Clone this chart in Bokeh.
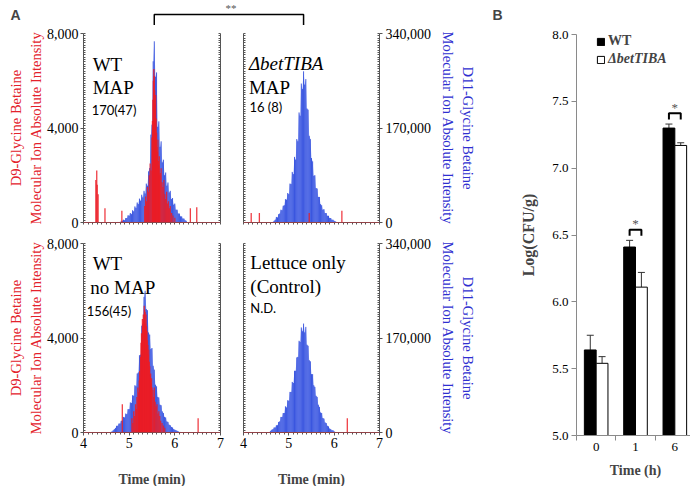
from bokeh.plotting import figure
from bokeh.models import (Range1d, LinearAxis, FixedTicker, NumeralTickFormatter,
                          PrintfTickFormatter, Label, Span, ColumnDataSource, Whisker,
                          TeeHead, Legend, LegendItem)
from bokeh.layouts import row, column
from bokeh.embed import file_html
from bokeh.resources import INLINE

# ---------------- Panel A data ----------------
# D11-glycine betaine (blue, right axis) traces, one sample every 0.025 min from 4.50 min, in thousands
blue_start = 4.50
blue_step = 0.025
blue_wt_map = [0, 0, 0, 0, 0, 0, 0, 0, 0, 0,
               1, 0, 1, 2, 3, 5, 4, 8, 8, 13,
               12, 17, 15, 22, 20, 29, 26, 36, 33, 43,
               39, 50, 45, 57, 52, 70, 66, 92, 98, 158,
               176, 290, 326, 262, 270, 172, 182, 136, 146, 108,
               113, 85, 90, 66, 72, 54, 57, 42, 44, 32,
               34, 23, 23, 16, 16, 11, 11, 7, 7, 4, 3]
blue_mut_map = [0, 0, 0, 0, 0, 0, 1, 3, 5, 10,
                9, 15, 16, 23, 22, 30, 31, 42, 41, 53,
                51, 70, 69, 91, 87, 118, 113, 150, 146, 198,
                192, 250, 240, 272, 248, 258, 205, 203, 156, 150,
                116, 110, 84, 85, 62, 61, 46, 46, 33, 31,
                23, 24, 17, 17, 12, 12, 8, 8, 5, 5,
                3, 2, 1, 0, 0, 0, 0, 0, 0, 0, 0]
blue_wt_nomap = [0, 0, 0, 0, 1, 2, 4, 6, 8, 12,
                 12, 16, 16, 21, 21, 28, 27, 34, 33, 42,
                 42, 54, 53, 67, 66, 85, 83, 106, 108, 139,
                 140, 192, 196, 244, 255, 222, 220, 180, 176, 150,
                 152, 120, 113, 86, 83, 64, 63, 50, 49, 38,
                 35, 28, 27, 20, 19, 14, 13, 10, 9, 6,
                 5, 4, 3, 2, 1, 1, 0, 0, 0, 0, 0]
blue_lettuce = [0, 0, 0, 1, 3, 5, 6, 9, 9, 13,
                13, 19, 20, 28, 28, 35, 35, 47, 45, 58,
                57, 73, 73, 91, 89, 111, 111, 135, 136, 165,
                163, 189, 182, 196, 180, 190, 158, 156, 130, 128,
                105, 105, 85, 82, 66, 64, 50, 46, 36, 35,
                26, 25, 18, 17, 12, 11, 7, 6, 4, 4,
                2, 1, 0, 0, 0, 0, 0, 0, 0, 0, 0]

# D9-glycine betaine (red, left axis) traces: retention time (min) and intensity
red_wt_map_t = [4.27, 4.29, 4.30, 4.32, 4.47, 4.84,
                5.34, 5.36, 5.38, 5.40, 5.42, 5.44, 5.46, 5.48, 5.50, 5.51,
                5.52, 5.53, 5.54, 5.55, 5.56, 5.57, 5.58, 5.59, 5.60, 5.61,
                5.62, 5.63, 5.64, 5.65, 5.66, 5.67, 5.68, 5.70, 5.72, 5.74,
                5.76, 5.78, 5.80, 5.82, 5.84, 5.86, 5.88, 5.90, 5.93, 5.96,
                6.00, 6.34, 6.48]
red_wt_map_v = [1800, 2200, 1600, 1200, 600, 500,
                700, 1100, 900, 1500, 1300, 2000, 2500, 2200, 3600, 4300,
                5200, 6000, 6500, 6200, 5600, 5000, 5400, 4400, 3800, 3200,
                3000, 3500, 2600, 2400, 2800, 2000, 2100, 2300, 1700, 1500,
                1800, 1200, 1000, 1300, 800, 900, 600, 700, 400, 300,
                200, 600, 650]
red_mut_map_t = [4.17, 4.35, 5.45, 6.17]
red_mut_map_v = [400, 400, 400, 500]
red_wt_nomap_t = [4.85, 5.06, 5.08, 5.10, 5.12, 5.14, 5.16, 5.17, 5.19, 5.20,
                  5.21, 5.22, 5.23, 5.24, 5.25, 5.26, 5.27, 5.28, 5.29, 5.30,
                  5.31, 5.32, 5.33, 5.34, 5.35, 5.36, 5.37, 5.38, 5.39, 5.40,
                  5.41, 5.42, 5.43, 5.44, 5.45, 5.46, 5.47, 5.48, 5.49, 5.50,
                  5.52, 5.54, 5.55, 5.57, 5.59, 5.61, 5.63, 5.65, 5.67, 5.69,
                  5.72, 5.75, 5.78, 6.51]
red_wt_nomap_v = [1200, 600, 400, 900, 700, 1200, 1000, 1500, 1900, 1400,
                  1700, 2200, 2600, 2300, 3200, 3800, 4200, 3900, 4800, 4500,
                  5000, 4700, 5370, 5200, 5100, 4600, 5000, 4500, 4300, 3900,
                  3700, 3300, 3500, 3000, 2800, 2400, 2500, 2100, 2300, 1900,
                  1800, 1500, 1900, 1300, 1100, 1200, 800, 900, 700, 500,
                  400, 300, 200, 600]
red_lettuce_t = [6.29]
red_lettuce_v = [600]

# panel texts
texts_tl = ["WT", "MAP", "170(47)"]
texts_tr = ["\u0394betTIBA", "MAP", "16 (8)"]
texts_bl = ["WT", "no MAP", "156(45)"]
texts_br = ["Lettuce only", "(Control)", "N.D."]

# ---------------- Panel B data ----------------
time_h = ["0", "1", "6"]
wt_mean = [5.64, 6.41, 7.30]
wt_err = [0.11, 0.05, 0.03]
mut_mean = [5.54, 6.11, 7.17]
mut_err = [0.05, 0.11, 0.02]
significant = [False, True, True]

SERIF = "Liberation Serif"
SANS = "Lato"
RED = "#e3222b"
BLUE = "#2f2fd0"
AX = "#555555"

FH = 189
FW_L, FW_R = 137, 136
BL_L, BR_L = 83, 11      # borders of left column figures
BL_R, BR_R = 12, 95      # borders of right column figures


def style_axis(ax):
    ax.axis_line_color = AX
    ax.major_tick_line_color = AX
    ax.minor_tick_line_color = AX
    ax.major_label_text_font = SERIF
    ax.major_label_text_font_size = "14px"
    ax.major_label_text_color = "black"
    ax.axis_label_text_font = SERIF
    ax.axis_label_text_font_style = "normal"
    ax.axis_label_text_font_size = "14.5px"
    ax.axis_label_text_line_height = 1.25


def chrom_fig(blue, rt, rv, is_left, is_bottom, texts, text_pos):
    p = figure(frame_width=FW_L if is_left else FW_R, frame_height=FH,
               x_range=Range1d(4, 7), y_range=Range1d(0, 8000),
               x_axis_type=None, y_axis_type=None,
               min_border_left=BL_L if is_left else BL_R,
               min_border_right=BR_L if is_left else BR_R,
               min_border_top=8,
               min_border_bottom=54 if is_bottom else 13,
               output_backend="svg", toolbar_location=None)
    p.outline_line_color = None
    p.extra_y_ranges = {"blue": Range1d(0, 340000)}

    bt = [round(blue_start + blue_step * i, 3) for i in range(len(blue))]
    bv = [v * 1000 for v in blue]
    bsrc = ColumnDataSource(dict(t=bt, v=bv))
    p.varea(x="t", y1=0, y2="v", source=bsrc, y_range_name="blue",
            fill_color="#4a6af2", fill_alpha=0.55)
    p.segment(x0="t", y0=0, x1="t", y1="v", source=bsrc, y_range_name="blue",
              line_color="#2240d8", line_width=1, line_alpha=0.8)
    rsrc = ColumnDataSource(dict(t=rt, v=rv))
    p.segment(x0="t", y0=0, x1="t", y1="v", source=rsrc,
              line_color="#ec1c24", line_width=1.3, line_alpha=0.85)
    p.add_layout(Span(location=0, dimension="width", line_color="#d0303a", line_width=1))

    red_minor = list(range(0, 8001, 100))
    blue_minor = list(range(0, 340001, 4250))
    time_minor = [round(4 + 0.1 * i, 1) for i in range(31)]
    if is_left:
        yl = LinearAxis(ticker=FixedTicker(ticks=[0, 4000, 8000], minor_ticks=red_minor),
                        formatter=NumeralTickFormatter(format="0,0"))
        yr = LinearAxis(y_range_name="blue", ticker=FixedTicker(ticks=[], minor_ticks=blue_minor))
    else:
        yl = LinearAxis(ticker=FixedTicker(ticks=[], minor_ticks=red_minor))
        yr = LinearAxis(y_range_name="blue",
                        ticker=FixedTicker(ticks=[0, 170000, 340000], minor_ticks=blue_minor),
                        formatter=NumeralTickFormatter(format="0,0"))
    if is_bottom:
        xb = LinearAxis(ticker=FixedTicker(ticks=[4, 5, 6, 7], minor_ticks=time_minor))
    else:
        xb = LinearAxis(ticker=FixedTicker(ticks=[], minor_ticks=time_minor))
    for ax in (yl, yr, xb):
        style_axis(ax)
    for ax in (yl, yr):
        ax.major_tick_out = 3
        ax.major_tick_in = 0
        ax.minor_tick_out = 0
        ax.minor_tick_in = 2
        ax.major_label_standoff = 2
    xb.major_tick_out = 3
    xb.major_tick_in = 0
    xb.minor_tick_out = 2
    xb.minor_tick_in = 0
    xb.major_label_standoff = 2

    if is_left:
        yl.axis_label = "D9-Glycine Betaine\nMolecular Ion Absolute Intensity"
        yl.axis_label_text_color = RED
        yl.axis_label_standoff = 0
    else:
        yr.axis_label = "D11-Glycine Betaine\nMolecular Ion Absolute Intensity"
        yr.axis_label_text_color = BLUE
        yr.axis_label_standoff = 6
        yr.major_label_standoff = 3
    if is_bottom:
        xb.axis_label = "Time (min)"
        xb.axis_label_text_font_style = "bold"
        xb.axis_label_text_font_size = "14px"
        xb.axis_label_standoff = 21
    p.add_layout(yl, "left")
    p.add_layout(yr, "right")
    p.add_layout(xb, "below")

    for txt, (x, y, font, size, style) in zip(texts, text_pos):
        p.add_layout(Label(x=x, y=y, text=txt, text_font=font, text_font_size=size,
                           text_font_style=style, text_color="black",
                           text_baseline="alphabetic", text_align="left"))
    return p


big = "19px"
small = "13px"
p_tl = chrom_fig(blue_wt_map, red_wt_map_t, red_wt_map_v, True, False, texts_tl,
                 [(4.20, 6690, SERIF, big, "normal"), (4.20, 5714, SERIF, big, "normal"),
                  (4.18, 4783, SANS, small, "normal")])
p_tr = chrom_fig(blue_mut_map, red_mut_map_t, red_mut_map_v, False, False, texts_tr,
                 [(4.12, 6730, SERIF, big, "italic"), (4.12, 5714, SERIF, big, "normal"),
                  (4.13, 4910, SANS, small, "normal")])
p_bl = chrom_fig(blue_wt_nomap, red_wt_nomap_t, red_wt_nomap_v, True, True, texts_bl,
                 [(4.20, 7153, SERIF, big, "normal"), (4.15, 6138, SERIF, big, "normal"),
                  (4.07, 5122, SANS, small, "normal")])
p_br = chrom_fig(blue_lettuce, red_lettuce_t, red_lettuce_v, False, True, texts_br,
                 [(4.15, 7196, SERIF, big, "normal"), (4.15, 6180, SERIF, big, "normal"),
                  (4.15, 5291, SANS, small, "normal")])

# ---- strip above both panels: panel letters and bracket between the two MAP peaks ----
W_TOTAL = 690
strip = figure(width=W_TOTAL, height=25, x_range=Range1d(0, W_TOTAL), y_range=Range1d(25, 0),
               x_axis_type=None, y_axis_type=None, min_border=0,
               output_backend="svg", toolbar_location=None)
strip.outline_line_color = None
t_peak_tl = blue_start + blue_step * blue_wt_map.index(max(blue_wt_map))
t_peak_tr = blue_start + blue_step * blue_mut_map.index(max(blue_mut_map))
x_a = BL_L + (t_peak_tl - 4) / 3 * FW_L
x_b = BL_L + FW_L + BR_L + BL_R + (t_peak_tr - 4) / 3 * FW_R
strip.line(x=[x_a, x_a, x_b, x_b], y=[24.8, 14, 14, 24.8], line_color="black", line_width=1.5)
strip.add_layout(Label(x=(x_a + x_b) / 2 + 2, y=7, text="**", text_align="center",
                       text_baseline="middle", text_font=SERIF, text_font_size="11px",
                       text_color="#555555"))
for letter, lx in (("A", 10), ("B", 492)):
    strip.add_layout(Label(x=lx, y=14, text=letter, text_font="Liberation Sans",
                           text_font_style="bold", text_font_size="14px",
                           text_baseline="middle"))

# ---------------- Panel B ----------------
W_A = BL_L + FW_L + BR_L + BL_R + FW_R + BR_R
pb = figure(frame_width=118, frame_height=401, x_range=Range1d(0, 3), y_range=Range1d(5, 8),
            x_axis_type=None, y_axis_type=None,
            min_border_left=W_TOTAL - W_A - 118 - 1, min_border_right=1,
            min_border_top=9, min_border_bottom=51,
            output_backend="svg", toolbar_location=None)
pb.outline_line_color = None
xc = [i + 0.5 for i in range(len(time_h))]
bw = 0.3
src = ColumnDataSource(dict(
    xw=[x - bw / 2 for x in xc], xm=[x + bw / 2 for x in xc],
    wt=wt_mean, wt_hi=[m + e for m, e in zip(wt_mean, wt_err)],
    mut=mut_mean, mut_hi=[m + e for m, e in zip(mut_mean, mut_err)]))
r_wt = pb.vbar(x="xw", width=bw, bottom=5, top="wt", source=src,
               fill_color="black", line_color="black", line_width=1)
r_mut = pb.vbar(x="xm", width=bw, bottom=5, top="mut", source=src,
                fill_color="white", line_color="black", line_width=1)
for base, lo, hi in (("xw", "wt", "wt_hi"), ("xm", "mut", "mut_hi")):
    pb.add_layout(Whisker(source=src, base=base, lower=lo, upper=hi,
                          upper_head=TeeHead(size=7, line_color="#333333", line_width=1),
                          lower_head=None, line_color="#333333", line_width=1))

# significance brackets
for i, sig in enumerate(significant):
    if not sig:
        continue
    lvl = max(wt_mean[i] + wt_err[i], mut_mean[i] + mut_err[i]) + 0.08
    x0, x1 = xc[i] - bw / 2, xc[i] + bw / 2
    pb.line(x=[x0, x0, x1, x1], y=[lvl - 0.045, lvl, lvl, lvl - 0.045],
            line_color="black", line_width=2)
    pb.add_layout(Label(x=xc[i], y=lvl - 0.01, text="*", text_align="center",
                        text_baseline="bottom", text_font=SERIF, text_font_size="13px",
                        text_color="#555555"))

yb = LinearAxis(ticker=FixedTicker(ticks=[5.0, 5.5, 6.0, 6.5, 7.0, 7.5, 8.0]),
                formatter=PrintfTickFormatter(format="%.1f"))
xbb = LinearAxis(ticker=FixedTicker(ticks=xc, minor_ticks=[0, 1, 2, 3]),
                 major_label_overrides={x: t for x, t in zip(xc, time_h)})
for ax in (yb, xbb):
    style_axis(ax)
    ax.axis_line_color = "#8a8a8a"
    ax.major_tick_line_color = "#8a8a8a"
    ax.minor_tick_line_color = "#8a8a8a"
    ax.major_label_text_font_size = "13px"
    ax.axis_label_text_font_style = "bold"
yb.major_tick_out = 5
yb.major_tick_in = 0
yb.minor_tick_line_color = None
yb.major_label_standoff = 3
yb.axis_label = "Log(CFU/g)"
yb.axis_label_text_font_size = "16px"
yb.axis_label_standoff = 12
xbb.major_tick_out = 0
xbb.major_tick_in = 0
xbb.minor_tick_out = 5
xbb.minor_tick_in = 0
xbb.major_label_standoff = 2
xbb.axis_label = "Time (h)"
xbb.axis_label_text_font_size = "14px"
xbb.axis_label_standoff = 9
pb.add_layout(yb, "left")
pb.add_layout(xbb, "below")

leg1 = Legend(items=[LegendItem(label="WT", renderers=[r_wt])], location=(20, 386))
leg2 = Legend(items=[LegendItem(label="\u0394betTIBA", renderers=[r_mut])], location=(20, 368))
for lg, st in ((leg1, "bold"), (leg2, "bold italic")):
    lg.border_line_color = None
    lg.background_fill_alpha = 0
    lg.padding = 0
    lg.margin = 0
    lg.spacing = 0
    lg.glyph_width = 9
    lg.glyph_height = 9
    lg.label_height = 14
    lg.label_standoff = 3
    lg.label_text_font = SERIF
    lg.label_text_font_size = "14px"
    lg.label_text_font_style = st
    pb.add_layout(lg)

layout = column(strip, row(column(row(p_tl, p_tr), row(p_bl, p_br)), pb))
open("out.html", "w").write(file_html(layout, INLINE))
